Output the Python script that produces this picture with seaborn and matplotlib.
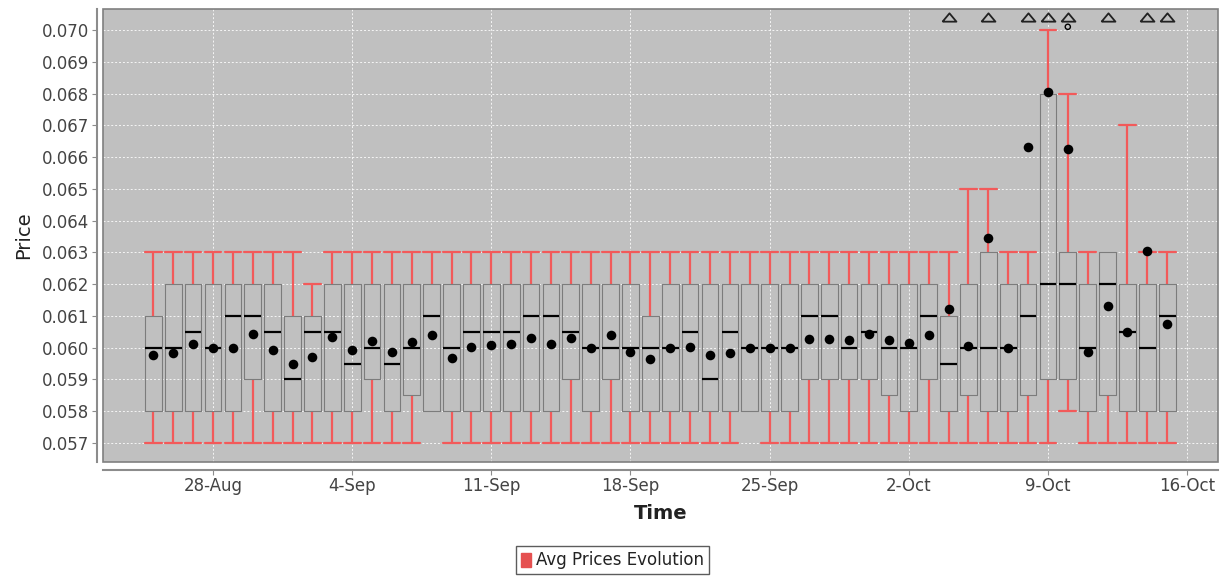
import numpy as np
import pandas as pd
import matplotlib
matplotlib.use("Agg")
import matplotlib.pyplot as plt
import matplotlib.dates as mdates
import matplotlib.transforms as mtransforms
from matplotlib.patches import Patch, Rectangle
import seaborn as sns

# Daily price distributions, 25-Aug to 15-Oct
days = pd.date_range("2017-08-25", "2017-10-15", freq="D")

low = [0.057] * 14 + [0.058] + [0.057] * 15 + [0.058] + [0.057] * 15 + [0.058] + [0.057] * 5

q1 = [0.058, 0.058, 0.058, 0.058, 0.058, 0.059, 0.058, 0.058, 0.058, 0.058,
      0.058, 0.059, 0.058, 0.0585, 0.058, 0.058, 0.058, 0.058, 0.058, 0.058,
      0.058, 0.059, 0.058, 0.059, 0.058, 0.058, 0.058, 0.058, 0.058, 0.058,
      0.058, 0.058, 0.058, 0.059, 0.059, 0.059, 0.059, 0.0585, 0.058, 0.059,
      0.058, 0.0585, 0.058, 0.058, 0.0585, 0.059, 0.059, 0.058, 0.0585, 0.058,
      0.058, 0.058]

median = [0.060, 0.060, 0.0605, 0.060, 0.061, 0.061, 0.0605, 0.059, 0.0605, 0.0605,
          0.0595, 0.060, 0.0595, 0.060, 0.061, 0.060, 0.0605, 0.0605, 0.0605, 0.061,
          0.061, 0.0605, 0.060, 0.060, 0.060, 0.060, 0.060, 0.0605, 0.059, 0.0605,
          0.060, 0.060, 0.060, 0.061, 0.061, 0.060, 0.0605, 0.060, 0.060, 0.061,
          0.0595, 0.060, 0.060, 0.060, 0.061, 0.062, 0.062, 0.060, 0.062, 0.0605,
          0.060, 0.061]

q3 = [0.061, 0.062, 0.062, 0.062, 0.062, 0.062, 0.062, 0.061, 0.061, 0.062,
      0.062, 0.062, 0.062, 0.062, 0.062, 0.062, 0.062, 0.062, 0.062, 0.062,
      0.062, 0.062, 0.062, 0.062, 0.062, 0.061, 0.062, 0.062, 0.062, 0.062,
      0.062, 0.062, 0.062, 0.062, 0.062, 0.062, 0.062, 0.062, 0.062, 0.062,
      0.061, 0.062, 0.063, 0.062, 0.062, 0.068, 0.063, 0.062, 0.063, 0.062,
      0.062, 0.062]

high = [0.063] * 8 + [0.062] + [0.063] * 32 + [0.065, 0.065, 0.063, 0.063, 0.070,
        0.068, 0.063, 0.063, 0.067, 0.063, 0.063]

mean = [0.05977, 0.05982, 0.06013, 0.05999, 0.06000, 0.06044, 0.05993, 0.05949, 0.05969, 0.06035,
        0.05994, 0.06021, 0.05987, 0.06018, 0.06041, 0.05966, 0.06003, 0.06007, 0.06012, 0.06031,
        0.06012, 0.06031, 0.05998, 0.06040, 0.05986, 0.05964, 0.05998, 0.06003, 0.05978, 0.05982,
        0.06000, 0.06000, 0.05998, 0.06026, 0.06028, 0.06024, 0.06042, 0.06024, 0.06016, 0.06040,
        0.06121, 0.06005, 0.06345, 0.06000, 0.06632, 0.06806, 0.06624, 0.05987, 0.06130, 0.06049,
        0.06305, 0.06074]

# Days with far-out values above the visible range, and a single mild outlier
off_scale_days = ["2017-10-04", "2017-10-06", "2017-10-08", "2017-10-09",
                  "2017-10-10", "2017-10-12", "2017-10-14", "2017-10-15"]
outlier_days = ["2017-10-10"]
outlier_values = [0.0701]

tick_days = ["2017-08-28", "2017-09-04", "2017-09-11", "2017-09-18",
             "2017-09-25", "2017-10-02", "2017-10-09", "2017-10-16"]
y_ticks = [0.057, 0.058, 0.059, 0.060, 0.061, 0.062, 0.063,
           0.064, 0.065, 0.066, 0.067, 0.068, 0.069, 0.070]

series_name = "Avg Prices Evolution"

RED = "#F25A5A"
BOX_EDGE = "#7C7C7C"
PLOT_BG = "#C0C0C0"
TEXT = "#444444"

sns.set_theme(style="white")
plt.rcParams["font.family"] = ["DejaVu Sans"]

fig = plt.figure(figsize=(12.25, 5.76), dpi=100)
W, H = 1225, 576
ax = fig.add_axes([103 / W, 1 - 462 / H, (1218 - 103) / W, (462 - 9) / H])
ax.set_facecolor(PLOT_BG)

xnum = mdates.date2num(days)
stats = np.column_stack([low, q1, median, q3, high])
df = pd.DataFrame({"day": np.repeat(xnum, 5), "price": stats.ravel()})

sns.boxplot(
    data=df, x="day", y="price", native_scale=True, whis=(0, 100),
    width=0.84, fill=False, linecolor=BOX_EDGE, linewidth=0.8,
    showfliers=False, capwidths=0.84,
    boxprops={"color": BOX_EDGE, "linewidth": 0.8, "zorder": 3},
    medianprops={"color": "black", "linewidth": 1.6, "zorder": 4},
    whiskerprops={"color": RED, "linewidth": 1.6, "zorder": 2},
    capprops={"color": RED, "linewidth": 1.6, "zorder": 2},
    ax=ax,
)

# A whisker of zero length gets no cap
box_artists = ax.containers[0]
for i in range(len(days)):
    if low[i] >= q1[i]:
        box_artists.whiskers[2 * i].set_visible(False)
        box_artists.caps[2 * i].set_visible(False)
    if high[i] <= q3[i]:
        box_artists.whiskers[2 * i + 1].set_visible(False)
        box_artists.caps[2 * i + 1].set_visible(False)

means_df = pd.DataFrame({"day": xnum, "mean": mean})
sns.scatterplot(data=means_df, x="day", y="mean", color="black", s=48,
                edgecolor="black", linewidth=0, zorder=6, legend=False, ax=ax)

out_df = pd.DataFrame({"day": mdates.date2num(pd.to_datetime(outlier_days)),
                       "price": outlier_values})
sns.scatterplot(data=out_df, x="day", y="price", marker="o", s=14,
                facecolor="none", edgecolor="black", linewidth=1.0,
                zorder=6, legend=False, ax=ax)

# Far-out indicators pinned to the top edge of the plot area
tri = [(-1.0, -0.6), (1.0, -0.6), (0.0, 0.6), (-1.0, -0.6)]
blend = mtransforms.blended_transform_factory(ax.transData, ax.transAxes)
off_x = mdates.date2num(pd.to_datetime(off_scale_days))
ax.plot(off_x, np.full(len(off_x), 0.983), transform=blend, linestyle="none",
        marker=tri, markersize=10, markerfacecolor="none",
        markeredgecolor="#222222", markeredgewidth=1.3, clip_on=False, zorder=7)

x0 = xnum[0]
ax.set_xlim(x0 - 2.535, x0 + 53.556)
ax.set_ylim(0.05640, 0.07066)

tick_x = mdates.date2num(pd.to_datetime(tick_days))
ax.set_xticks(tick_x)
ax.xaxis.set_major_formatter(mdates.DateFormatter("%-d-%b"))
ax.set_yticks(y_ticks)
ax.yaxis.set_major_formatter(matplotlib.ticker.FormatStrFormatter("%.3f"))

ax.grid(True, color="white", linestyle=(0, (2, 2)), linewidth=0.7, alpha=0.85)
ax.set_axisbelow(True)

for s in ("top", "right"):
    ax.spines[s].set_visible(False)
ax.spines["left"].set_position(("outward", 4.5))
ax.spines["bottom"].set_position(("outward", 5.5))
for s in ("left", "bottom"):
    ax.spines[s].set_color("#8C8C8C")
    ax.spines[s].set_linewidth(1.5)
ax.add_patch(Rectangle((0, 0), 1, 1, transform=ax.transAxes, fill=False,
                       edgecolor="#808080", linewidth=1.2, clip_on=False, zorder=8))

ax.tick_params(axis="both", which="major", length=3.5, width=0.8, color="#8C8C8C",
               labelsize=12, labelcolor=TEXT, pad=2, bottom=True, left=True)

ax.set_xlabel("Time", fontsize=14, fontweight="bold", color="#222222", labelpad=6)
ax.set_ylabel("Price", fontsize=14, color="#222222", labelpad=6)

handle = Patch(facecolor="#E55050", edgecolor="#E55050", label=series_name)
leg = fig.legend(handles=[handle], loc="lower center", bbox_to_anchor=(0.5, 0.0),
                 frameon=True, fancybox=False, fontsize=12, handlelength=0.6,
                 handleheight=0.9, handletextpad=0.3, borderpad=0.3,
                 borderaxespad=0.1)
leg.get_frame().set_edgecolor("#333333")
leg.get_frame().set_linewidth(1.0)
for t in leg.get_texts():
    t.set_color("#222222")

fig.savefig("out.png", dpi=100, facecolor="white")
